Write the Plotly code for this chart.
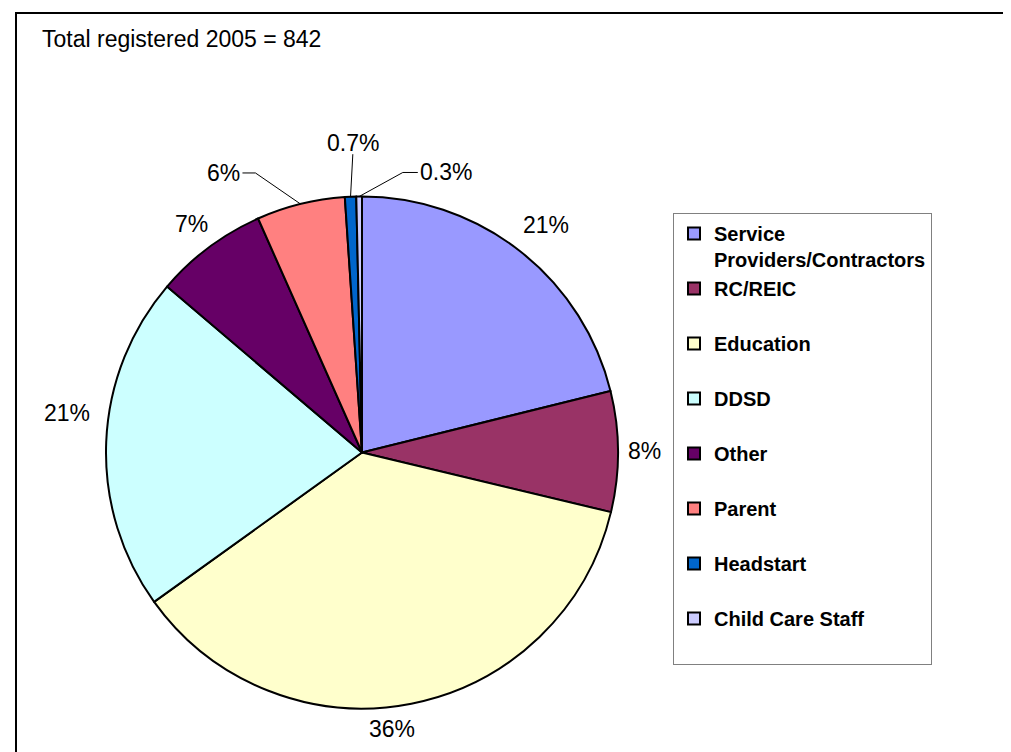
import math
import plotly.graph_objects as go

# ---------------- data ----------------
categories = ["Service Providers/Contractors", "RC/REIC", "Education", "DDSD",
              "Other", "Parent", "Headstart", "Child Care Staff"]
counts = [178, 64, 306, 178, 60, 47, 6, 3]
pct_labels = ["21%", "8%", "36%", "21%", "7%", "6%", "0.7%", "0.3%"]
colors = ["#9999FF", "#993366", "#FFFFCC", "#CCFFFF",
          "#660066", "#FF8080", "#0066CC", "#CCCCFF"]
title_text = "Total registered 2005 = 842"

# ---------------- layout constants (pixels) ----------------
W, H = 1011, 752
CX, CY, R = 354, 444.5, 256
FS = 23          # percentage label font size
GAP = 10
FONT = "Liberation Sans, Arial, sans-serif"
# labels moved off their slices with leader lines: (angle deg clockwise from top, radius factor)
leader_label_pos = {5: (333.7, 1.218), 6: (358.3, 1.209), 7: (16.7, 1.142)}
# small pixel nudges of the automatic label placement (dx, dy)
label_nudge = {0: (6, 0), 2: (-24, 0), 3: (-6, -28)}


def px(x):
    return x / W


def py(y):
    return 1 - y / H


def text_width(s, fs):
    w = {"%": 0.889, ".": 0.278}
    return sum(w.get(c, 0.556) for c in s) * fs


# legend text: wrap long name, pad others to two lines
legend_names = []
for c in categories:
    if " " in c and len(c) > 20:
        a, b = c.split(" ", 1)
        legend_names.append(f"{a}<br>{b}")
    else:
        legend_names.append(f"{c}<br>&nbsp;")

fig = go.Figure(go.Pie(
    labels=legend_names,
    values=counts,
    sort=False,
    direction="clockwise",
    rotation=0,
    textinfo="none",
    hoverinfo="label+percent",
    marker=dict(colors=colors, line=dict(color="black", width=2)),
    domain=dict(x=[px(CX - R), px(CX + R)], y=[py(CY + R), py(CY - R)]),
))

annotations = []
shapes = []
total = sum(counts)
cum = 0.0
for i, (v, t) in enumerate(zip(counts, pct_labels)):
    frac = v / total
    mid = (cum + frac / 2) * 2 * math.pi
    cum += frac
    sx, sy = math.sin(mid), -math.cos(mid)
    ex, ey = CX + R * sx, CY + R * sy
    w, h = text_width(t, FS), FS
    if i in leader_label_pos:
        ang, rf = leader_label_pos[i]
        a = math.radians(ang)
        lx, ly = CX + rf * R * math.sin(a), CY - rf * R * math.cos(a)
        if abs(lx - ex) < 20:
            path = f"M{px(ex)},{py(ey)} L{px(lx)},{py(ly + h * 0.48)}"
        elif lx < ex:
            rx = lx + w / 2 + 2
            path = (f"M{px(ex)},{py(ey)} L{px(rx + 13)},{py(ly)} L{px(rx)},{py(ly)}")
        else:
            lft = lx - w / 2 - 2
            path = (f"M{px(ex)},{py(ey)} L{px(lft - 15)},{py(ly)} L{px(lft)},{py(ly)}")
        shapes.append(dict(type="path", xref="paper", yref="paper", path=path,
                           line=dict(color="black", width=1)))
    else:
        pad = GAP + abs(sx) * w / 2 + abs(sy) * h / 2
        lx, ly = CX + (R + pad) * sx, CY + (R + pad) * sy
        dx, dy = label_nudge.get(i, (0, 0))
        lx, ly = lx + dx, ly + dy
    annotations.append(dict(x=px(lx), y=py(ly), xref="paper", yref="paper",
                            text=t, showarrow=False, xanchor="center", yanchor="middle",
                            font=dict(family=FONT, size=FS, color="black")))

annotations.append(dict(x=px(32), y=py(31), xref="paper", yref="paper",
                        text=title_text, showarrow=False, xanchor="left", yanchor="middle",
                        font=dict(family=FONT, size=23, color="black")))

# outer chart border (runs off the right and bottom of the picture)
shapes.append(dict(type="rect", xref="paper", yref="paper",
                   x0=px(8), x1=px(W + 10), y0=py(H + 10), y1=py(5),
                   line=dict(color="black", width=2), fillcolor="rgba(0,0,0,0)"))

fig.update_layout(
    width=W, height=H,
    margin=dict(l=0, r=0, t=0, b=0),
    paper_bgcolor="white", plot_bgcolor="white",
    showlegend=True,
    legend=dict(x=px(665), xanchor="left", y=py(205), yanchor="top",
                bordercolor="#808080", borderwidth=1, bgcolor="white",
                valign="top", traceorder="normal",
                font=dict(family=FONT, size=20, color="black", weight="bold")),
    annotations=annotations,
    shapes=shapes,
)

fig.write_html("out.html")
